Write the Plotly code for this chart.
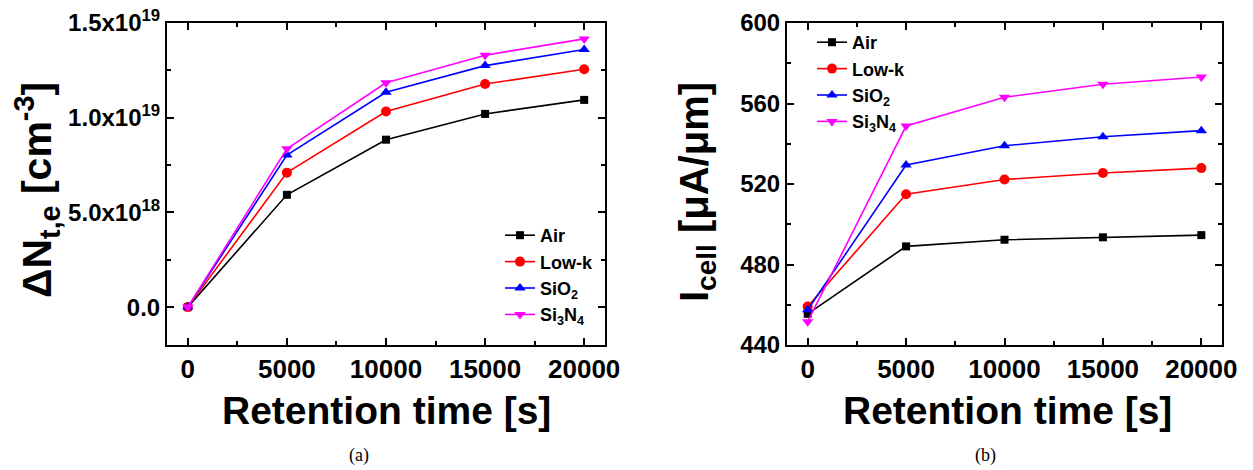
import plotly.graph_objects as go

# ---------------- data ----------------
retention_time = [0, 5000, 10000, 15000, 20000]

# (a) Delta N_t,e  [cm^-3]
nt_air = [0.0, 5.93e18, 8.84e18, 10.2e18, 10.94e18]
nt_lowk = [0.0, 7.10e18, 10.33e18, 11.78e18, 12.56e18]
nt_sio2 = [0.0, 8.03e18, 11.34e18, 12.75e18, 13.60e18]
nt_si3n4 = [0.0, 8.36e18, 11.84e18, 13.30e18, 14.16e18]

# (b) I_cell [uA/um]
icell_air = [455.5, 489.0, 492.3, 493.5, 494.6]
icell_lowk = [459.1, 514.9, 522.2, 525.5, 527.9]
icell_sio2 = [457.5, 529.4, 539.0, 543.5, 546.5]
icell_si3n4 = [451.6, 548.8, 563.1, 569.6, 573.2]

series_names = ["Air", "Low-k", "SiO<sub>2</sub>", "Si<sub>3</sub>N<sub>4</sub>"]
nt_yticks = [0, 5e18, 1e19, 1.5e19]
nt_yticktext = ["0.0", "5.0x10<sup>18</sup>", "1.0x10<sup>19</sup>", "1.5x10<sup>19</sup>"]
icell_yticks = [440, 480, 520, 560, 600]
x_ticks = [0, 5000, 10000, 15000, 20000]
x_ticktext = ["0", "5000", "10000", "15000", "20000"]

# ---------------- style ----------------
colors = ["#000000", "#FF0000", "#0000FF", "#FF00FF"]
symbols = ["square", "circle", "triangle-up", "triangle-down"]
msizes = [8, 10, 10, 10]
FONT = "Liberation Sans, Arial, sans-serif"

fig = go.Figure()

for i, (name, ys) in enumerate(zip(series_names, [nt_air, nt_lowk, nt_sio2, nt_si3n4])):
    fig.add_trace(go.Scatter(
        x=retention_time, y=ys, name=name, mode="lines+markers",
        line=dict(color=colors[i], width=1.6),
        marker=dict(symbol=symbols[i], size=msizes[i], color=colors[i]),
        xaxis="x", yaxis="y", legend="legend"))

for i, (name, ys) in enumerate(zip(series_names, [icell_air, icell_lowk, icell_sio2, icell_si3n4])):
    fig.add_trace(go.Scatter(
        x=retention_time, y=ys, name=name, mode="lines+markers",
        line=dict(color=colors[i], width=1.6),
        marker=dict(symbol=symbols[i], size=msizes[i], color=colors[i]),
        xaxis="x2", yaxis="y2", legend="legend2"))


def tickfont(size):
    return dict(family=FONT, size=size, color="black", weight="bold")


common_axis = dict(
    showline=True, linecolor="black", linewidth=2, mirror="allticks",
    ticks="inside", ticklen=7, tickwidth=2, tickcolor="black",
    showgrid=False, zeroline=False, automargin=False,
)

xax = dict(common_axis, range=[-1050, 21050], tickmode="array", tickvals=x_ticks, ticktext=x_ticktext,
           tickfont=tickfont(26),
           minor=dict(dtick=2500, tick0=0, ticks="inside", ticklen=4, tickwidth=2, tickcolor="black"))

legend_font = dict(family=FONT, size=18, color="black", weight="bold")

fig.update_layout(
    width=1253, height=470,
    margin=dict(l=0, r=0, t=0, b=0, autoexpand=False),
    paper_bgcolor="white", plot_bgcolor="white",
    xaxis=dict(xax, domain=[167/1253, 605/1253], anchor="y"),
    yaxis=dict(common_axis, domain=[1-345/470, 1-23/470], anchor="x", tickfont=tickfont(24),
               range=[-2.0e18, 1.5e19], tickmode="array", tickvals=nt_yticks, ticktext=nt_yticktext,
               minor=dict(tickvals=[2.5e18, 7.5e18, 1.25e19], ticks="inside", ticklen=4,
                          tickwidth=2, tickcolor="black")),
    xaxis2=dict(xax, domain=[787/1253, 1222/1253], anchor="y2"),
    yaxis2=dict(common_axis, domain=[1-345/470, 1-23/470], anchor="x2", tickfont=tickfont(24),
                range=[440, 600], tickmode="array", tickvals=icell_yticks,
                minor=dict(dtick=20, tick0=440, ticks="inside", ticklen=4, tickwidth=2, tickcolor="black")),
    legend=dict(x=500/1253, y=1-217/470, xanchor="left", yanchor="top",
                bgcolor="rgba(0,0,0,0)", font=legend_font, tracegroupgap=0),
    legend2=dict(x=812/1253, y=1-24/470, xanchor="left", yanchor="top",
                 bgcolor="rgba(0,0,0,0)", font=legend_font, tracegroupgap=0),
)

title_font = dict(family=FONT, size=39, color="black", weight="bold")
annotations = [
    dict(text="Retention time [s]", x=386/1253, y=1-410/470, font=title_font),
    dict(text="Retention time [s]", x=1007/1253, y=1-410/470, font=title_font),
    dict(text="ΔN<sub>t,e</sub> [cm<sup>-3</sup>]", x=37/1253, y=1-190/470, textangle=-90,
         font=dict(family=FONT, size=41, color="black", weight="bold")),
    dict(text="I<sub>cell</sub> [μA/μm]", x=697/1253, y=1-192/470, textangle=-90,
         font=dict(family=FONT, size=40, color="black", weight="bold")),
    dict(text="(a)", x=359/1253, y=1-455/470,
         font=dict(family="Liberation Serif, Times New Roman, serif", size=18, color="black")),
    dict(text="(b)", x=985/1253, y=1-455/470,
         font=dict(family="Liberation Serif, Times New Roman, serif", size=18, color="black")),
]
for a in annotations:
    fig.add_annotation(xref="paper", yref="paper", showarrow=False,
                       xanchor="center", yanchor="middle", **a)

fig.write_html("out.html")
